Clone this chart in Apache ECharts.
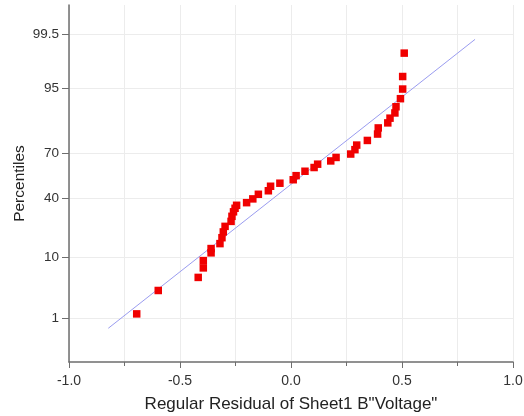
<!DOCTYPE html>
<html>
<head>
<meta charset="utf-8">
<script src="https://cdn.jsdelivr.net/npm/echarts@6/dist/echarts.min.js"></script>
<style>
  html, body { margin: 0; padding: 0; background: #fff; }
  #chart { width: 524px; height: 416px; }
</style>
</head>
<body>
<div id="chart"></div>
<script>
// residuos (eje X)
const residuals = [
  -0.695, -0.598, -0.418, -0.395, -0.395, -0.360, -0.360, -0.320, -0.311, -0.305,
  -0.297, -0.270, -0.266, -0.259, -0.252, -0.245, -0.200, -0.172, -0.147, -0.102,
  -0.092, -0.050, 0.010, 0.023, 0.063, 0.104, 0.120, 0.179, 0.203, 0.269,
  0.288, 0.296, 0.344, 0.390, 0.393, 0.436, 0.446, 0.468, 0.473, 0.493,
  0.503, 0.503, 0.510
];
// percentiles (eje Y)
const percentiles = [
  1.2, 3.2, 5.2, 7.2, 9.1, 11.5, 13.0, 14.9, 17.4, 20.1,
  22.9, 25.6, 28.5, 31.2, 33.4, 35.3, 37.0, 39.5, 42.6, 45.0,
  48.1, 50.2, 52.6, 55.4, 58.4, 60.9, 63.1, 65.2, 67.4, 69.5,
  72.1, 74.7, 77.2, 80.4, 83.2, 85.3, 87.1, 88.9, 90.8, 92.9,
  94.9, 96.8, 98.8
];
// recta de referencia (extremos)
const refX = [-0.823, 0.829];
const refPct = [0.61, 99.37];
// marcas del eje Y
const yTickLabels = ['1', '10', '40', '70', '95', '99.5'];
const yTickPct = [1, 10, 40, 70, 95, 99.5];

// escala probabilística: inversa de la normal (Acklam)
function probit(p) {
  const a = [-39.69683028665376, 220.9460984245205, -275.9285104469687, 138.357751867269, -30.66479806614716, 2.506628277459239];
  const b = [-54.47609879822406, 161.5858368580409, -155.6989798598866, 66.80131188771972, -13.28068155288572];
  const c = [-0.007784894002430293, -0.3223964580411365, -2.400758277161838, -2.549732539343734, 4.374664141464968, 2.938163982698783];
  const d = [0.007784695709041462, 0.3224671290700398, 2.445134137142996, 3.754408661907416];
  const pl = 0.02425;
  let q, r;
  if (p < pl) {
    q = Math.sqrt(-2 * Math.log(p));
    return (((((c[0]*q+c[1])*q+c[2])*q+c[3])*q+c[4])*q+c[5]) / ((((d[0]*q+d[1])*q+d[2])*q+d[3])*q+1);
  }
  if (p > 1 - pl) {
    q = Math.sqrt(-2 * Math.log(1 - p));
    return -(((((c[0]*q+c[1])*q+c[2])*q+c[3])*q+c[4])*q+c[5]) / ((((d[0]*q+d[1])*q+d[2])*q+d[3])*q+1);
  }
  q = p - 0.5;
  r = q * q;
  return (((((a[0]*r+a[1])*r+a[2])*r+a[3])*r+a[4])*r+a[5])*q / (((((b[0]*r+b[1])*r+b[2])*r+b[3])*r+b[4])*r+1);
}

const yTickZ = yTickPct.map(p => probit(p / 100));
const zMax = probit(0.999);

const chart = echarts.init(document.getElementById('chart'), null, { renderer: 'canvas' });

const font = 'Liberation Sans, Arial, sans-serif';

const option = {
  backgroundColor: '#fff',
  animation: false,
  grid: { left: 69, right: 11, top: 5, bottom: 54, outerBoundsMode: 'none', containLabel: false },
  xAxis: {
    type: 'value',
    min: -1,
    max: 1,
    interval: 0.5,
    name: 'Regular Residual of Sheet1 B"Voltage"',
    nameLocation: 'middle',
    nameGap: 34,
    nameTextStyle: { fontFamily: font, fontSize: 17, color: '#222' },
    axisLine: { show: true, onZero: false, lineStyle: { color: '#6e6e6e', width: 1.5 } },
    axisTick: { show: true, length: 6, lineStyle: { color: '#6e6e6e' } },
    minorTick: { show: true, splitNumber: 2, length: 4, lineStyle: { color: '#6e6e6e' } },
    axisLabel: {
      fontFamily: font, fontSize: 14, color: '#333', margin: 12,
      formatter: v => v.toFixed(1)
    },
    splitLine: { show: true, lineStyle: { color: '#ececec', width: 1 } },
    minorSplitLine: { show: true, lineStyle: { color: '#ececec', width: 1 } }
  },
  yAxis: {
    type: 'value',
    min: -zMax,
    max: zMax,
    name: 'Percentiles',
    nameLocation: 'middle',
    nameGap: 41,
    nameMoveOverlap: false,
    nameTextStyle: { fontFamily: font, fontSize: 15.5, color: '#222' },
    axisLine: { show: true, onZero: false, lineStyle: { color: '#6e6e6e', width: 1.5 } },
    axisTick: { show: true, length: 7, customValues: yTickZ, lineStyle: { color: '#6e6e6e' } },
    axisLabel: {
      fontFamily: font, fontSize: 13.5, color: '#333', margin: 10,
      customValues: yTickZ,
      formatter: v => {
        let best = 0;
        yTickZ.forEach((z, i) => { if (Math.abs(z - v) < Math.abs(yTickZ[best] - v)) best = i; });
        return yTickLabels[best];
      }
    },
    splitLine: { show: true, lineStyle: { color: '#ececec', width: 1 } }
  },
  series: [
    {
      type: 'line',
      data: refX.map((x, i) => [x, probit(refPct[i] / 100)]),
      showSymbol: false,
      symbol: 'none',
      lineStyle: { color: '#9a9cf0', width: 1 },
      silent: true,
      z: 2
    },
    {
      type: 'scatter',
      data: residuals.map((x, i) => [x, probit(percentiles[i] / 100)]),
      symbol: 'rect',
      symbolSize: 7.5,
      itemStyle: { color: '#f00000', opacity: 1 },
      z: 3
    }
  ]
};

chart.setOption(option);
</script>
</body>
</html>
